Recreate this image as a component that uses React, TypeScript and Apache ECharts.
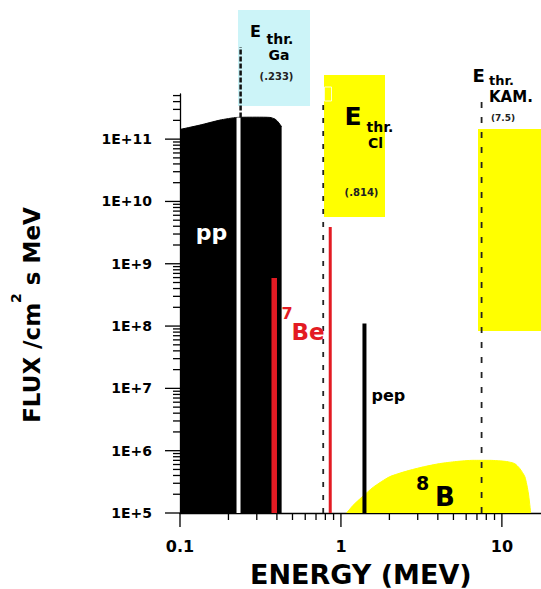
import React, { useEffect, useRef } from 'react';
import * as echarts from 'echarts';

// ---- axis ranges ----
const X_MIN = 0.1;
const X_MAX = 17.5;
const Y_MIN = 1e5;
const Y_MAX = 5.3e11;

// ---- spectra ----
const ppEnergy = [0.1, 0.133, 0.177, 0.226, 0.3, 0.362, 0.389, 0.406, 0.428];
const ppFlux = [1.43e11, 1.68e11, 2.02e11, 2.23e11, 2.25e11, 2.23e11, 2.1e11, 1.9e11, 1.58e11];

const b8Energy = [1.085, 1.19, 1.35, 1.59, 2.0, 2.56, 3.25, 4.1, 5.2, 6.6, 8.4, 10.7, 12.0, 12.9, 13.9, 14.6, 15.1];
const b8Flux = [1e5, 1.33e5, 1.8e5, 2.6e5, 3.8e5, 4.7e5, 5.5e5, 6.2e5, 6.7e5, 7.0e5, 7.0e5, 6.7e5, 6.2e5, 5.2e5, 3.8e5, 2.1e5, 1e5];

const be7Energy = [0.385, 0.858];
const be7Flux = [5.9e8, 3.9e9];

const pepEnergy = [1.4];
const pepFlux = [1.1e8];

// ---- detector thresholds ----
const gaGapEnergy = 0.231;
const gaGapTop = 2.23e11;
const thresholdEnergy = [0.238, 0.776, 7.48];
const thresholdBottom = [2.23e11, 1e5, 1e5];
const thresholdTop = [3e12, 4.2e11, 5.1e11];

// ---- ticks ----
const xMajorTicks = [0.1, 1, 10];
const xTickLabels = ['0.1', '1', '10'];
const xMinorTicks = [0.2, 0.3, 0.4, 0.5, 0.6, 0.7, 0.8, 0.9, 2, 3, 4, 5, 6, 7, 8, 9];
const yMajorTicks = [1e5, 1e6, 1e7, 1e8, 1e9, 1e10, 1e11];
const yTickLabels = ['1E+5', '1E+6', '1E+7', '1E+8', '1E+9', '1E+10', '1E+11'];
const minorMultipliers = [2, 3, 4, 5, 6, 7, 8, 9];
const yMinorDecades = [1e5, 1e6, 1e7, 1e8, 1e9, 1e10];
const yTopMinorTicks = [2e11, 3e11, 4e11, 5e11];
const yMinorTicks = yMinorDecades
  .flatMap((d) => minorMultipliers.map((m) => m * d))
  .concat(yTopMinorTicks);

const FONT = "'DejaVu Sans', sans-serif";
const RED = '#e31b23';
const YELLOW = '#ffff00';
const CYAN = '#ccf4f8';

function txt(text: string, x: number, y: number, size: number, opts: any = {}) {
  return {
    type: 'text',
    x,
    y,
    z: 100,
    silent: true,
    style: {
      text,
      font: `bold ${size}px ${FONT}`,
      fill: opts.fill || '#000',
      align: opts.align || 'left',
      verticalAlign: 'middle',
      textAlign: opts.align || 'left',
      textVerticalAlign: 'middle',
    },
  };
}

function vline(name: string, x: number, y0: number, y1: number, color: string, width: number, dash?: number[], z = 3) {
  return {
    name,
    type: 'line',
    data: [
      [x, y0],
      [x, y1],
    ],
    symbol: 'none',
    showSymbol: false,
    clip: false,
    silent: true,
    z,
    lineStyle: { color, width, type: dash ? dash : 'solid' },
  };
}

export default function App() {
  const ref = useRef<HTMLDivElement>(null);

  useEffect(() => {
    const chart = echarts.init(ref.current!, undefined, { renderer: 'svg' });

    const tickSeries = (
      data: number[][],
      draw: (p: number[], i: number) => any[]
    ) => ({
      type: 'custom',
      coordinateSystem: 'cartesian2d',
      data,
      clip: false,
      silent: true,
      z: 20,
      renderItem: (params: any, api: any) => {
        const p = api.coord([api.value(0), api.value(1)]);
        return { type: 'group', children: draw(p, params.dataIndex) };
      },
    });

    const tickStyle = { stroke: '#000', lineWidth: 1.3 };

    const option: any = {
      animation: false,
      backgroundColor: '#ffffff',
      grid: { left: 180, right: 0, top: 94, bottom: 76, containLabel: false },
      xAxis: {
        type: 'log',
        logBase: 10,
        min: X_MIN,
        max: X_MAX,
        axisLine: { show: true, onZero: false, lineStyle: { color: '#000', width: 1.3 } },
        axisTick: { show: false },
        axisLabel: { show: false },
        splitLine: { show: false },
        minorTick: { show: false },
        minorSplitLine: { show: false },
      },
      yAxis: {
        type: 'log',
        logBase: 10,
        min: Y_MIN,
        max: Y_MAX,
        axisLine: { show: true, onZero: false, lineStyle: { color: '#000', width: 1.3 } },
        axisTick: { show: false },
        axisLabel: { show: false },
        splitLine: { show: false },
        minorTick: { show: false },
        minorSplitLine: { show: false },
      },
      series: [
        {
          name: '8B',
          type: 'line',
          data: b8Energy.map((e, i) => [e, b8Flux[i]]),
          symbol: 'none',
          smooth: 0.2,
          silent: true,
          z: 2,
          lineStyle: { color: YELLOW, width: 1 },
          areaStyle: { color: YELLOW, opacity: 1, origin: 'start' },
        },
        {
          name: 'pp',
          type: 'line',
          data: ppEnergy.map((e, i) => [e, ppFlux[i]]),
          symbol: 'none',
          smooth: 0.2,
          silent: true,
          z: 2,
          lineStyle: { color: '#000', width: 1 },
          areaStyle: { color: '#000', opacity: 1, origin: 'start' },
        },
        vline('Ga gap', gaGapEnergy, Y_MIN, gaGapTop, '#ffffff', 4, undefined, 3),
        vline('Ga threshold', thresholdEnergy[0], thresholdBottom[0], thresholdTop[0], '#111', 2.5, [5, 2], 4),
        vline('Cl threshold', thresholdEnergy[1], thresholdBottom[1], thresholdTop[1], '#222', 1.8, [5, 8], 4),
        vline('KAM threshold', thresholdEnergy[2], thresholdBottom[2], thresholdTop[2], '#222', 1.8, [6, 9], 4),
        vline('7Be 0.384', be7Energy[0], Y_MIN, be7Flux[0], RED, 5.5, undefined, 5),
        vline('7Be 0.862', be7Energy[1], Y_MIN, be7Flux[1], RED, 3, undefined, 5),
        vline('pep', pepEnergy[0], Y_MIN, pepFlux[0], '#000', 4, undefined, 5),
        tickSeries(
          yMajorTicks.map((v) => [X_MIN, v]),
          (p, i) => [
            { type: 'line', shape: { x1: p[0] - 15, y1: p[1], x2: p[0], y2: p[1] }, style: tickStyle },
            {
              type: 'text',
              x: p[0] - 28,
              y: p[1],
              style: {
                text: yTickLabels[i],
                font: `bold 14px ${FONT}`,
                fill: '#000',
                align: 'right',
                verticalAlign: 'middle',
              },
            },
          ]
        ),
        tickSeries(
          yMinorTicks.map((v) => [X_MIN, v]),
          (p) => [{ type: 'line', shape: { x1: p[0] - 7, y1: p[1], x2: p[0], y2: p[1] }, style: tickStyle }]
        ),
        tickSeries(
          xMajorTicks.map((v) => [v, Y_MIN]),
          (p, i) => [
            { type: 'line', shape: { x1: p[0], y1: p[1], x2: p[0], y2: p[1] + 14 }, style: tickStyle },
            {
              type: 'text',
              x: p[0],
              y: p[1] + 33,
              style: {
                text: xTickLabels[i],
                font: `bold 16px ${FONT}`,
                fill: '#000',
                align: 'center',
                verticalAlign: 'middle',
              },
            },
          ]
        ),
        tickSeries(
          xMinorTicks.map((v) => [v, Y_MIN]),
          (p) => [{ type: 'line', shape: { x1: p[0], y1: p[1], x2: p[0], y2: p[1] + 7 }, style: tickStyle }]
        ),
      ],
      graphic: [
        // threshold boxes
        { type: 'rect', z: 1, silent: true, shape: { x: 238, y: 10, width: 72, height: 96 }, style: { fill: CYAN } },
        { type: 'rect', z: 1, silent: true, shape: { x: 324, y: 75, width: 61, height: 142 }, style: { fill: YELLOW } },
        { type: 'rect', z: 1, silent: true, shape: { x: 478, y: 129, width: 63, height: 202 }, style: { fill: YELLOW } },
        { type: 'rect', z: 1, silent: true, shape: { x: 324.5, y: 87, width: 7, height: 14 }, style: { fill: 'none', stroke: '#ffffff', lineWidth: 1, opacity: 0.8 } },
        // Ga label
        txt('E', 250, 31, 16),
        txt('thr.', 266.5, 38.5, 14),
        txt('Ga', 279, 55, 14, { align: 'center' }),
        txt('(.233)', 276.5, 76.5, 10, { fill: '#222', align: 'center' }),
        // Cl label
        txt('E', 344.5, 116, 25),
        txt('thr.', 366.5, 126.5, 14),
        txt('Cl', 368, 143, 14),
        txt('(.814)', 361.5, 192, 10, { fill: '#222', align: 'center' }),
        // KAM label
        txt('E', 472.5, 75, 18),
        txt('thr.', 489, 80, 13),
        txt('KAM.', 489, 97, 15),
        txt('(7.5)', 503, 118, 9, { fill: '#222', align: 'center' }),
        // spectrum labels
        txt('pp', 211.5, 232.5, 22, { fill: '#ffffff', align: 'center' }),
        txt('7', 287, 313.5, 16, { fill: RED, align: 'center' }),
        txt('Be', 291.5, 331.5, 23, { fill: RED }),
        txt('pep', 371.5, 395.5, 16),
        txt('8', 422.5, 482.5, 19, { align: 'center' }),
        txt('B', 435, 496.5, 26),
        // axis titles
        txt('ENERGY (MEV)', 360.8, 574.5, 27, { align: 'center' }),
        {
          type: 'text',
          x: 31.7,
          y: 315,
          rotation: Math.PI / 2,
          z: 100,
          silent: true,
          style: {
            text: '{a|FLUX /cm}{b|2}{a| s MeV}',
            align: 'center',
            verticalAlign: 'middle',
            textAlign: 'center',
            textVerticalAlign: 'middle',
            fill: '#000',
            rich: {
              a: { fontSize: 23, fontWeight: 'bold', fontFamily: FONT, lineHeight: 46, fill: '#000' },
              b: { fontSize: 14, fontWeight: 'bold', fontFamily: FONT, lineHeight: 17, verticalAlign: 'top', fill: '#000' },
            },
          },
        },
      ],
    };

    chart.setOption(option);
    return () => chart.dispose();
  }, []);

  return (
    <div
      ref={ref}
      style={{ position: 'fixed', left: 0, top: 0, width: 541, height: 589, background: '#ffffff' }}
    />
  );
}
